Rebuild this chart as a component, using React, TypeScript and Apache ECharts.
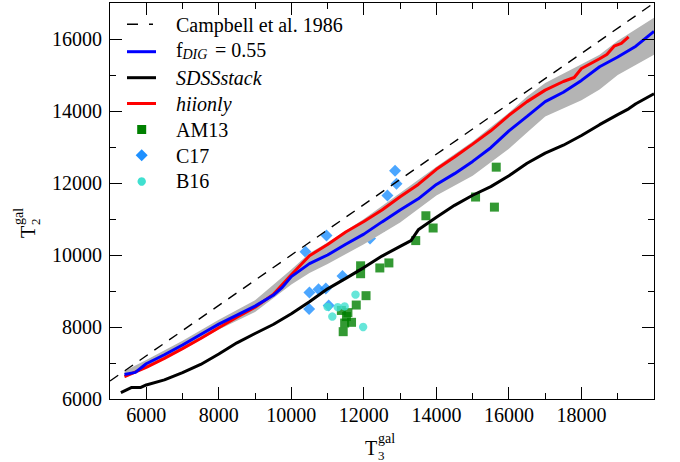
import React, { useEffect, useRef, useState } from "react";
import * as echarts from "echarts";

// ---- data ----
const campbellX = [5000, 20000];
const campbellY = [6500, 17000];

const blueX = [5400, 5700, 6000, 6500, 7000, 7500, 8000, 8500, 9000, 9500, 9750, 10000, 10500, 11000, 11500, 12000, 12500, 13000, 13500, 14000, 14500, 15000, 15500, 16000, 16500, 17000, 17500, 18000, 18500, 19000, 19500, 20000];
const blueY = [6680, 6740, 6980, 7230, 7500, 7790, 8080, 8330, 8580, 8880, 9100, 9400, 9760, 10000, 10300, 10580, 10920, 11250, 11560, 11960, 12260, 12600, 12980, 13450, 13850, 14260, 14520, 14850, 15230, 15500, 15800, 16210];

const redX = [5400, 6000, 6500, 7000, 7500, 8000, 8500, 9000, 9500, 10000, 10500, 11000, 11500, 12000, 12500, 13000, 13500, 14000, 14500, 15000, 15500, 16000, 16500, 17000, 17500, 17800, 18000, 18500, 18700, 18900, 19100, 19300];
const redY = [6620, 6880, 7130, 7400, 7680, 7980, 8270, 8550, 8900, 9450, 9980, 10290, 10640, 10930, 11250, 11620, 11960, 12380, 12720, 13080, 13450, 13880, 14260, 14580, 14820, 14930, 15180, 15450, 15570, 15800, 15880, 16060];

const blackX = [5300, 5600, 5850, 6000, 6500, 7000, 7500, 8000, 8500, 9000, 9500, 10000, 10500, 11000, 11500, 12000, 12500, 13000, 13300, 13500, 14000, 14500, 15000, 15500, 16000, 16500, 17000, 17500, 18000, 18500, 19000, 19300, 19500, 20000];
const blackY = [6180, 6320, 6320, 6390, 6530, 6730, 6960, 7250, 7560, 7820, 8070, 8370, 8700, 9060, 9350, 9650, 9970, 10240, 10400, 10700, 11050, 11380, 11660, 11900, 12200, 12550, 12830, 13050, 13320, 13620, 13900, 14060, 14200, 14480];

const bandX = [5400, 6000, 7000, 8000, 9000, 10000, 10500, 11000, 12000, 13000, 14000, 15000, 16000, 16500, 17000, 18000, 18500, 19000, 20000];
const bandUpper = [6780, 7080, 7620, 8200, 8740, 9600, 10050, 10350, 11000, 11720, 12450, 13150, 13950, 14400, 14780, 15300, 15560, 15950, 16590];
const bandLower = [6580, 6860, 7360, 7930, 8420, 9180, 9500, 9750, 10300, 10900, 11650, 12200, 12950, 13400, 13850, 14300, 14600, 15000, 15560];

const am13X = [15650, 15080, 15600, 13710, 13910, 12440, 13430, 11910, 11910, 12440, 12690, 12060, 11790, 11380, 11560, 11660, 11470, 11430, 11520];
const am13Y = [12440, 11610, 11330, 11090, 10750, 10770, 10400, 9700, 9480, 9640, 9780, 8870, 8610, 8460, 8400, 8130, 8110, 7870, 8290];

const c17X = [12860, 12900, 12650, 12540, 10970, 10390, 12170, 11410, 10500, 10750, 10950, 10490, 11030];
const c17Y = [12340, 11980, 11650, 11100, 10540, 10090, 10460, 9420, 8960, 9050, 9070, 8500, 8600];

const b16X = [11770, 11000, 11280, 11470, 11130, 11980];
const b16Y = [8900, 8560, 8550, 8570, 8290, 8000];

const xMin = 5000;
const xMax = 20000;
const yMin = 6000;
const yMax = 17000;
const xLabelTicks = [6000, 8000, 10000, 12000, 14000, 16000, 18000];
const xMinorTicks = [7000, 9000, 11000, 13000, 15000, 17000, 19000];
const yLabelTicks = [6000, 8000, 10000, 12000, 14000, 16000];
const yMinorTicks = [7000, 9000, 11000, 13000, 15000];

const FONT = "Liberation Serif";
const GRID = { left: 110, right: 26, top: 3, bottom: 63 };

const pairs = (xs: number[], ys: number[]) => xs.map((x, i) => [x, ys[i]]);

const abs = (left: number, top: number, size: number, extra: any = {}): any => ({
  position: "absolute",
  left,
  top,
  fontFamily: FONT,
  fontSize: size,
  lineHeight: `${size}px`,
  whiteSpace: "nowrap",
  color: "#000",
  ...extra,
});

function AxisTitle({ sub }: { sub: string }) {
  // origin = left end of the T's baseline
  return (
    <>
      <div style={abs(0, -16.8, 20)}>T</div>
      <div style={abs(13, -23.2, 14)}>gal</div>
      <div style={abs(13, -5.9, 13)}>{sub}</div>
    </>
  );
}

type Layout = {
  l: number;
  r: number;
  t: number;
  b: number;
  xMaj: number[][];
  xMin: number[];
  yMaj: number[][];
  yMin: number[];
};

function App() {
  const ref = useRef<HTMLDivElement>(null);
  const [lay, setLay] = useState<Layout | null>(null);

  useEffect(() => {
    const chart = echarts.init(ref.current!, null, { renderer: "svg" });

    const legendRows = [24.3, 50.7, 77.7, 103.5, 129.5, 155.3, 181.5];
    const iconX1 = 127;
    const iconX2 = 156;
    const iconC = 141.7;
    const icons: any[] = [
      { type: "line", z: 100, shape: { x1: iconX1, y1: legendRows[0], x2: 153, y2: legendRows[0] }, style: { stroke: "#000", lineWidth: 1.5, lineDash: [11, 11] } },
      { type: "line", z: 100, shape: { x1: iconX1, y1: legendRows[1] + 1, x2: iconX2, y2: legendRows[1] + 1 }, style: { stroke: "#0000ff", lineWidth: 3 } },
      { type: "line", z: 100, shape: { x1: iconX1, y1: legendRows[2], x2: iconX2, y2: legendRows[2] }, style: { stroke: "#000", lineWidth: 3 } },
      { type: "line", z: 100, shape: { x1: iconX1, y1: legendRows[3], x2: iconX2, y2: legendRows[3] }, style: { stroke: "#ff0000", lineWidth: 3 } },
      { type: "rect", z: 100, shape: { x: iconC - 4.5, y: legendRows[4] - 4.5, width: 9, height: 9 }, style: { fill: "#008000" } },
      { type: "polygon", z: 100, shape: { points: [[iconC, legendRows[5] - 6], [iconC + 6, legendRows[5]], [iconC, legendRows[5] + 6], [iconC - 6, legendRows[5]]] }, style: { fill: "#1e90ff" } },
      { type: "circle", z: 100, shape: { cx: iconC, cy: legendRows[6], r: 4.2 }, style: { fill: "#40e0d0" } },
    ];

    const hidden = { axisLine: { show: false }, axisTick: { show: false }, axisLabel: { show: false }, splitLine: { show: false } };
    const option: any = {
      animation: false,
      backgroundColor: "#fff",
      grid: GRID,
      xAxis: { type: "value", min: xMin, max: xMax, ...hidden },
      yAxis: { type: "value", min: yMin, max: yMax, ...hidden },
      graphic: icons,
      series: [
        { name: "AM13", type: "scatter", symbol: "rect", symbolSize: 9, itemStyle: { color: "#008000" }, data: pairs(am13X, am13Y), z: 1 },
        { name: "C17", type: "scatter", symbol: "diamond", symbolSize: 12, itemStyle: { color: "#1e90ff" }, data: pairs(c17X, c17Y), z: 1 },
        { name: "B16", type: "scatter", symbol: "circle", symbolSize: 8.4, itemStyle: { color: "#40e0d0" }, data: pairs(b16X, b16Y), z: 1 },
        {
          name: "band",
          type: "custom",
          z: 2,
          data: [[bandX[0], bandLower[0]]],
          renderItem: (_params: any, api: any) => {
            const pts: number[][] = [];
            for (let i = 0; i < bandX.length; i++) pts.push(api.coord([bandX[i], bandUpper[i]]));
            for (let i = bandX.length - 1; i >= 0; i--) pts.push(api.coord([bandX[i], bandLower[i]]));
            return { type: "polygon", shape: { points: pts }, style: { fill: "#b4b4b4" } };
          },
        },
        { name: "Campbell et al. 1986", type: "line", data: pairs(campbellX, campbellY), symbol: "none", lineStyle: { color: "#000", width: 1.4, type: [10, 8] }, z: 3 },
        { name: "SDSSstack", type: "line", data: pairs(blackX, blackY), symbol: "none", lineStyle: { color: "#000", width: 3 }, z: 3 },
        { name: "hiionly", type: "line", data: pairs(redX, redY), symbol: "none", lineStyle: { color: "#ff0000", width: 3 }, z: 3 },
        { name: "fDIG", type: "line", data: pairs(blueX, blueY), symbol: "none", lineStyle: { color: "#0000ff", width: 3 }, z: 4 },
      ],
    };
    chart.setOption(option);

    // positions of frame, ticks and tick labels through the chart's own scales
    const W = 680;
    const H = 462;
    const fallback = (x: number, y: number) => [
      GRID.left + ((x - xMin) / (xMax - xMin)) * (W - GRID.left - GRID.right),
      GRID.top + ((yMax - y) / (yMax - yMin)) * (H - GRID.top - GRID.bottom),
    ];
    const toPx = (x: number, y: number): number[] => {
      try {
        const p = chart.convertToPixel({ xAxisIndex: 0, yAxisIndex: 0 }, [x, y]) as any;
        if (p && isFinite(p[0]) && isFinite(p[1])) return [p[0], p[1]];
      } catch (e) {
        /* ignore */
      }
      return fallback(x, y);
    };
    const bl = toPx(xMin, yMin);
    const tr = toPx(xMax, yMax);
    setLay({
      l: bl[0],
      b: bl[1],
      r: tr[0],
      t: tr[1],
      xMaj: xLabelTicks.map((v) => [v, toPx(v, yMin)[0]]),
      xMin: xMinorTicks.map((v) => toPx(v, yMin)[0]),
      yMaj: yLabelTicks.map((v) => [v, toPx(xMin, v)[1]]),
      yMin: yMinorTicks.map((v) => toPx(xMin, v)[1]),
    });
    return () => chart.dispose();
  }, []);

  const tick = (left: number, top: number, w: number, h: number, key: string) => (
    <div key={key} style={{ position: "absolute", left, top, width: w, height: h, background: "#000" }} />
  );

  const overlay: any[] = [];
  if (lay) {
    const { l, r, t, b } = lay;
    overlay.push(
      <div
        key="frame"
        style={{ position: "absolute", left: l - 0.75, top: t - 0.75, width: r - l + 1.5, height: b - t + 1.5, border: "1.5px solid #000", boxSizing: "border-box" }}
      />
    );
    lay.xMaj.forEach(([v, p]) => {
      overlay.push(tick(p - 0.5, b - 12, 1, 12, `xb${v}`));
      overlay.push(tick(p - 0.5, t, 1, 12, `xt${v}`));
      overlay.push(
        <div key={`xl${v}`} style={abs(p, b + 6, 20, { transform: "translateX(-50%)" })}>
          {String(v)}
        </div>
      );
    });
    lay.xMin.forEach((p, i) => {
      overlay.push(tick(p - 0.5, b - 6, 1, 6, `xbm${i}`));
      overlay.push(tick(p - 0.5, t, 1, 6, `xtm${i}`));
    });
    lay.yMaj.forEach(([v, p]) => {
      if (v !== yMin) {
        overlay.push(tick(l, p - 0.5, 12, 1, `yl${v}`));
        overlay.push(tick(r - 12, p - 0.5, 12, 1, `yr${v}`));
      }
      overlay.push(
        <div key={`ylab${v}`} style={abs(0, p, 20, { left: undefined, right: 680 - (l - 8), transform: "translateY(-50%)", textAlign: "right" })}>
          {String(v)}
        </div>
      );
    });
    lay.yMin.forEach((p, i) => {
      overlay.push(tick(l, p - 0.5, 6, 1, `ylm${i}`));
      overlay.push(tick(r - 6, p - 0.5, 6, 1, `yrm${i}`));
    });
  }

  return (
    <div style={{ position: "fixed", left: 0, top: 0, width: 680, height: 462, background: "#fff", overflow: "hidden" }}>
      <div ref={ref} style={{ position: "absolute", left: 0, top: 0, width: 680, height: 462 }} />
      {overlay}
      {/* legend texts */}
      <div style={abs(176, 14.5, 20)}>Campbell et al. 1986</div>
      <div style={abs(176, 39.7, 20)}>f</div>
      <div style={abs(182.5, 47.6, 14, { fontStyle: "italic" })}>DIG</div>
      <div style={abs(215, 39.7, 20)}>= 0.55</div>
      <div style={abs(176, 68.3, 20, { fontStyle: "italic" })}>SDSSstack</div>
      <div style={abs(176, 94, 20, { fontStyle: "italic" })}>hiionly</div>
      <div style={abs(176, 120, 20)}>AM13</div>
      <div style={abs(176, 145.7, 20)}>C17</div>
      <div style={abs(176, 171.3, 20)}>B16</div>
      {/* axis titles */}
      <div style={{ position: "absolute", left: 365, top: 455, width: 0, height: 0 }}>
        <AxisTitle sub="3" />
      </div>
      <div style={{ position: "absolute", left: 35, top: 238, width: 0, height: 0, transform: "rotate(-90deg)", transformOrigin: "0 0" }}>
        <AxisTitle sub="2" />
      </div>
    </div>
  );
}

export default App;
